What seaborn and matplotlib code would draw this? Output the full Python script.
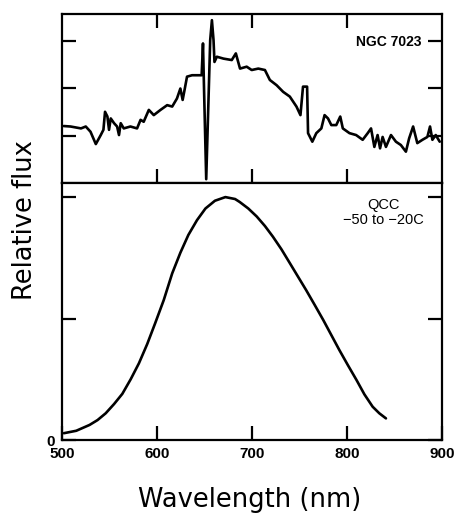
import matplotlib
matplotlib.use("Agg")
import matplotlib.pyplot as plt
import seaborn as sns
import pandas as pd

# ---- data ----
ngc_wavelength = [501.8, 509, 520, 525, 530, 535.6, 540.8, 543.6, 545.3, 547.8, 549.5, 551.3,
                  554.8, 558, 560, 561.8, 565, 572, 579, 582.7, 586, 591.4, 596.6, 603.7,
                  610.7, 616, 621, 624.6, 627, 629, 631.6, 636.9, 642, 647, 648.4, 649.7,
                  651.8, 654.2, 656, 657.8, 659.5, 660.5, 663, 670, 678.7, 683, 687.4,
                  694.4, 699.7, 706.6, 713.6, 718.8, 725.9, 732.8, 739.8, 746.8, 751,
                  753.7, 758, 759, 763.5, 767.7, 773, 776.4, 780, 783.5, 788.7, 792.9,
                  795.6, 802.6, 809.6, 816.5, 821.8, 825.3, 828.8, 832.2, 834.8, 837.5,
                  841, 846.3, 851.5, 856.7, 862, 865.4, 869.6, 874, 879.4, 884.6, 887.4,
                  889.9, 893.4, 897.6]
ngc_flux = [1.20, 1.19, 1.15, 1.19, 1.08, 0.82, 1.01, 1.12, 1.50, 1.40, 1.12, 1.36,
            1.26, 1.19, 1.01, 1.26, 1.15, 1.19, 1.15, 1.33, 1.29, 1.54, 1.43, 1.54,
            1.64, 1.61, 1.78, 1.99, 1.75, 1.96, 2.24, 2.27, 2.27, 2.27, 2.94, 1.82,
            0.08, 1.75, 3.01, 3.43, 3.01, 2.55, 2.66, 2.62, 2.59, 2.73, 2.41,
            2.45, 2.38, 2.41, 2.38, 2.17, 2.06, 1.92, 1.82, 1.61, 1.43,
            2.03, 2.03, 1.05, 0.87, 1.05, 1.15, 1.43, 1.36, 1.22, 1.22, 1.40,
            1.15, 1.05, 1.01, 0.91, 1.05, 1.15, 0.76, 1.01, 0.73, 0.97,
            0.76, 1.01, 0.87, 0.80, 0.66, 0.94, 1.19, 0.84, 0.91, 0.97, 1.19,
            0.91, 1.01, 0.87]

qcc_wavelength = [502, 515, 529, 537.4, 546, 554.8, 563.5, 572.3, 581, 589.7, 598, 607.1,
                  616, 624.6, 633, 642.1, 651, 661, 672, 682.2, 687, 696.1, 705, 713.6,
                  722, 731, 740, 748.5, 757, 766, 775, 783.5, 792, 800.8, 810, 818.3,
                  827, 834, 841]
qcc_flux = [0.028, 0.038, 0.062, 0.082, 0.11, 0.148, 0.19, 0.25, 0.316, 0.395, 0.48, 0.576,
            0.686, 0.771, 0.844, 0.905, 0.953, 0.985, 1.0, 0.992, 0.98, 0.953, 0.92, 0.881,
            0.837, 0.785, 0.727, 0.672, 0.617, 0.556, 0.494, 0.432, 0.37, 0.309, 0.247, 0.188,
            0.137, 0.11, 0.089]

x_ticks = [500, 600, 700, 800, 900]
x_ticklabels = ["500", "600", "700", "800", "900"]
top_yticks = [1, 2, 3]
bottom_yticks = [0, 0.5, 1.0]
bottom_yticklabels = ["0", "", ""]

ngc = pd.DataFrame({"wavelength": ngc_wavelength, "flux": ngc_flux})
qcc = pd.DataFrame({"wavelength": qcc_wavelength, "flux": qcc_flux})

# ---- style ----
sns.set_style("ticks")
plt.rcParams["font.family"] = ["DejaVu Sans"]
for k in ("text.color", "axes.labelcolor", "xtick.color", "ytick.color", "axes.edgecolor"):
    plt.rcParams[k] = "black"

fig = plt.figure(figsize=(4.54, 5.16), dpi=100)
L, W = 62 / 454, 380 / 454
ax1 = fig.add_axes([L, 1 - 183 / 516, W, 169 / 516])
ax2 = fig.add_axes([L, 1 - 440 / 516, W, 257 / 516])

lw = 1.9
sns.lineplot(data=ngc, x="wavelength", y="flux", ax=ax1, color="black",
             linewidth=lw, estimator=None, sort=False)
sns.lineplot(data=qcc, x="wavelength", y="flux", ax=ax2, color="black",
             linewidth=lw, estimator=None, sort=False)

for ax in (ax1, ax2):
    ax.set_xlim(500, 900)
    ax.set_xlabel("")
    ax.set_ylabel("")
    for s in ax.spines.values():
        s.set_visible(True)
        s.set_linewidth(1.6)
        s.set_color("black")

# top panel
ax1.set_ylim(0, 3.56)
ax1.set_xticks([600, 700, 800])
ax1.set_yticks(top_yticks)
ax1.tick_params(axis="both", which="both", direction="in", length=10, width=1.6,
                top=True, bottom=True, left=True, right=True,
                labelbottom=False, labelleft=False, colors="black")

# bottom panel
ax2.set_ylim(0, 1.058)
ax2.set_xticks(x_ticks)
ax2.set_xticklabels(x_ticklabels)
ax2.set_yticks(bottom_yticks)
ax2.set_yticklabels(bottom_yticklabels)
ax2.tick_params(axis="both", which="both", direction="in", length=10, width=1.6,
                top=False, bottom=True, left=True, right=True, pad=5, colors="black")
for lab in ax2.get_xticklabels() + ax2.get_yticklabels():
    lab.set_fontfamily("Liberation Sans")
    lab.set_fontweight("bold")
    lab.set_fontsize(11)
    lab.set_color("black")

ax1.text(0.947, 0.834, "NGC 7023", transform=ax1.transAxes, ha="right", va="center",
         fontsize=10, fontweight="bold", family="Liberation Sans", color="black")
ax2.text(0.845, 0.885, "QCC\n\u221250 to \u221220C", transform=ax2.transAxes,
         ha="center", va="center", fontsize=10.5, family="Liberation Sans",
         linespacing=1.15, color="black")

fig.text(25 / 454, 1 - 220 / 516, "Relative flux", rotation=90, ha="center",
         va="center", fontsize=18.5, color="black")
fig.text(250 / 454, 1 - 500 / 516, "Wavelength (nm)", ha="center", va="center",
         fontsize=18.5, color="black")

fig.savefig("out.png", dpi=100)
